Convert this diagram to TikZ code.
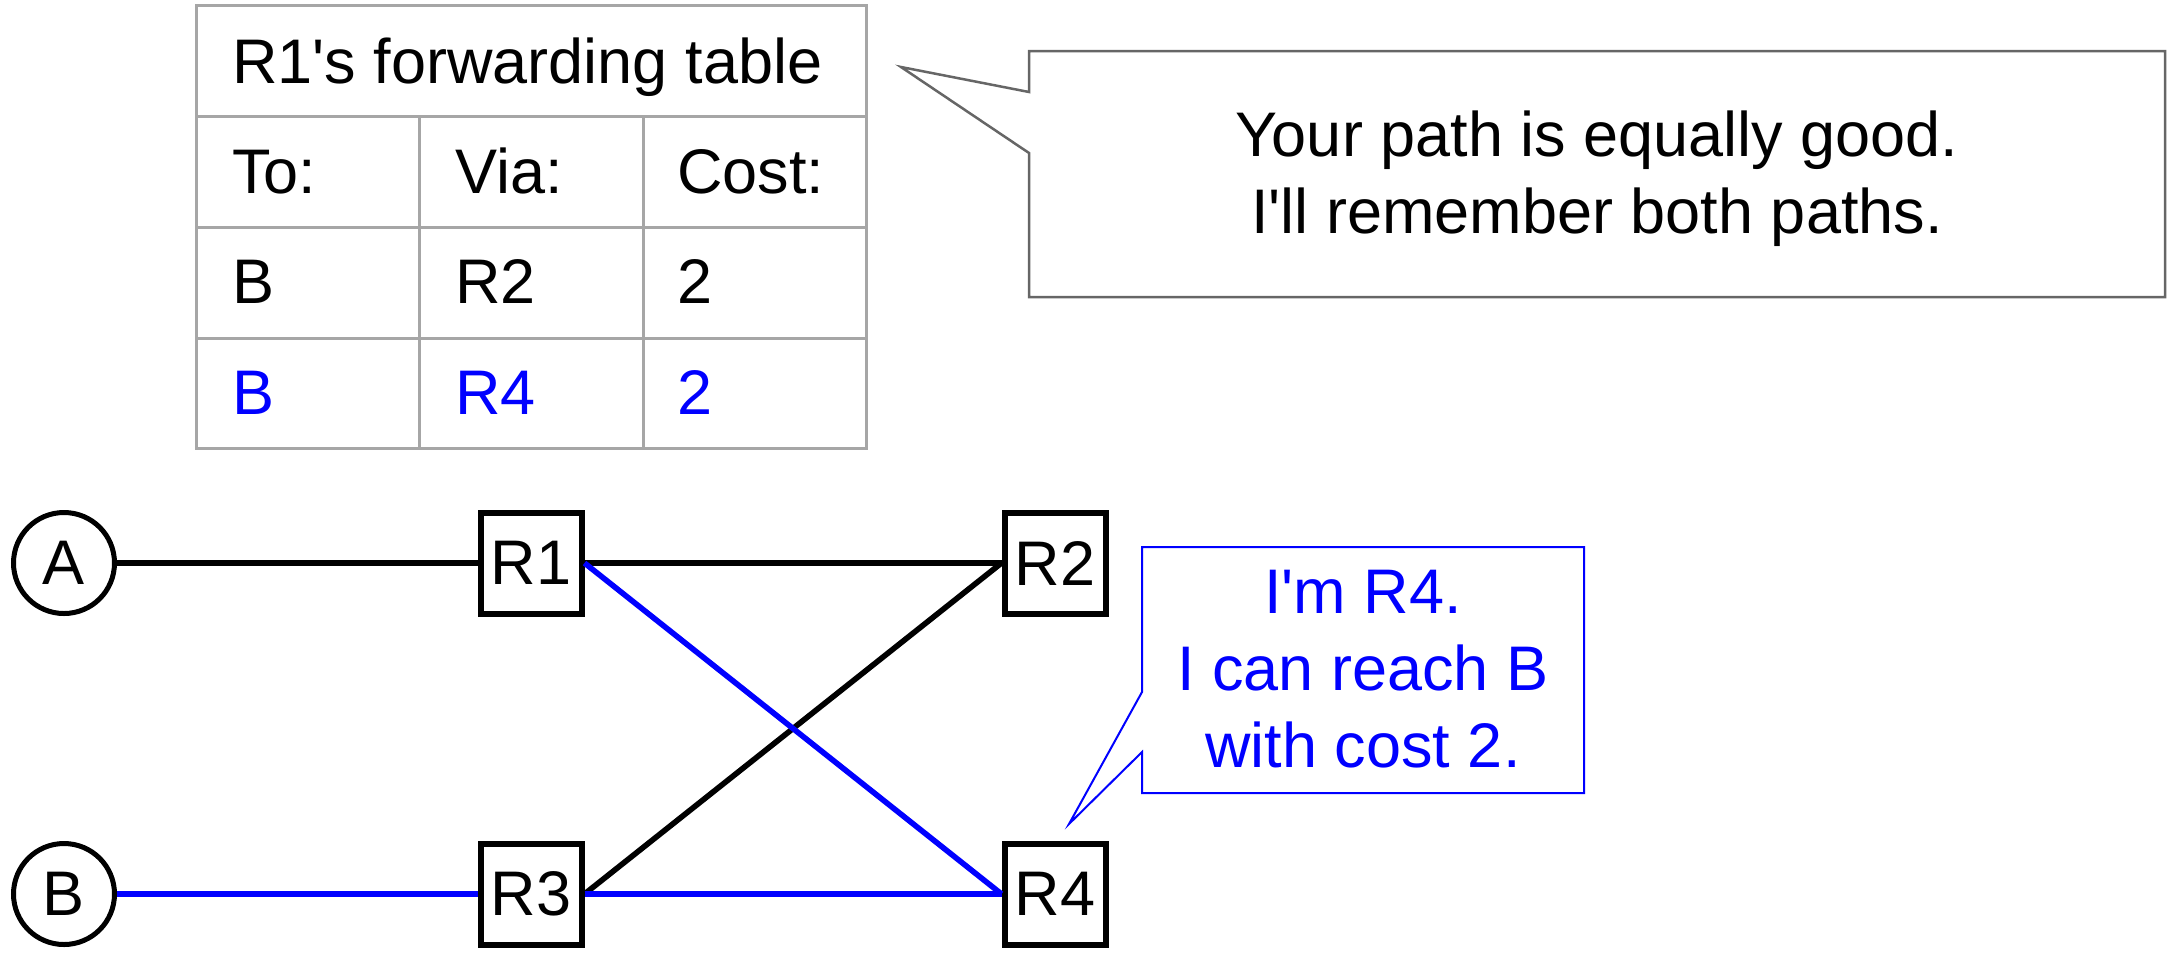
\documentclass[tikz,border=0pt]{standalone}
\usepackage{fontspec}
\setmainfont{Liberation Sans}
\newfontfamily\lsans{Liberation Sans}
\definecolor{tblgray}{HTML}{A6A6A6}
\definecolor{callgray}{HTML}{666666}
\definecolor{pureblue}{HTML}{0000FF}
\begin{document}
\begin{tikzpicture}[x=0.5pt,y=-0.5pt,
  every node/.style={font=\lsans\fontsize{31.5pt}{38.5pt}\selectfont},
  router/.style={draw, line width=3pt, minimum width=50.5pt, minimum height=50.5pt, inner sep=0pt},
  host/.style={circle, draw, line width=2.5pt, minimum size=50.5pt, inner sep=0pt},
  link/.style={line width=2.8pt, black},
  bluelink/.style={line width=2.8pt, pureblue},
  tbl/.style={line width=1.5pt, tblgray},
  cell/.style={anchor=base west, inner sep=0pt},
  bcell/.style={cell, text=pureblue},
  callout/.style={line width=1.25pt, callgray, line join=miter},
  bluecallout/.style={line width=1pt, pureblue, line join=miter}
]
\useasboundingbox (0,0) rectangle (2167,971);

% forwarding table
\draw[tbl] (196,5.5) rectangle (866,448);
\draw[tbl] (196,116) -- (866,116);
\draw[tbl] (196,227) -- (866,227);
\draw[tbl] (196,338) -- (866,338);
\draw[tbl] (419,116) -- (419,448);
\draw[tbl] (643,116) -- (643,448);
\node[cell] (th) at (232,83) {R1's forwarding table};
\node[cell] (hto) at (232,193) {To:};
\node[cell] (hvia) at (455,193) {Via:};
\node[cell] (hcost) at (677,193) {Cost:};
\node[cell] (r1to) at (232,303) {B};
\node[cell] (r1via) at (455,303) {R2};
\node[cell] (r1cost) at (677,303) {2};
\node[bcell] (r2to) at (232,414) {B};
\node[bcell] (r2via) at (455,414) {R4};
\node[bcell] (r2cost) at (677,414) {2};

% R1's callout
\draw[callout] (1029,51) -- (2165,51) -- (2165,297) -- (1029,297) -- (1029,153) -- (901,67) -- (1029,92) -- cycle;
\node[align=center] (msg1) at (1597,179) {Your path is equally good.\\I'll remember both paths.};

% R4's callout
\draw[bluecallout] (1142,547) -- (1584,547) -- (1584,793) -- (1142,793) -- (1142,752) -- (1069,824) -- (1142,692) -- cycle;
\node[align=center, text=pureblue] (msg2) at (1363,669) {I'm R4.\\I can reach B\\with cost 2.};

% network
\node[host] (A) at (64,563) {A};
\node[host] (B) at (64,894) {B};
\node[router] (R1) at (531,563) {R1};
\node[router] (R2) at (1055,563) {R2};
\node[router] (R3) at (531,894) {R3};
\node[router] (R4) at (1055,894) {R4};

\draw[link] (A) -- (R1);
\draw[link] (R1.east) -- (R2.west);
\draw[link] (R2.west) -- (R3.east);
\draw[bluelink] (R1.east) -- (R4.west);
\draw[bluelink] (B) -- (R3);
\draw[bluelink] (R3.east) -- (R4.west);
\end{tikzpicture}
\end{document}
